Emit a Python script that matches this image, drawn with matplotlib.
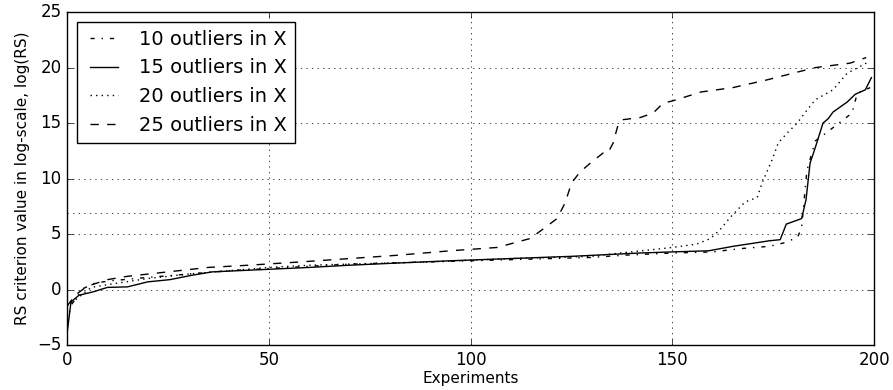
import numpy as np
import matplotlib
matplotlib.use("Agg")
import matplotlib.pyplot as plt

# ---------- data ----------
x_10 = [0, 1, 4, 7, 11, 20, 30, 40, 50, 60, 70, 80, 90, 100, 110, 120, 130, 138,
        150, 160, 167, 174, 177.5, 181, 182, 183.3, 185.4, 188.4, 192.3, 194.5,
        195.8, 197.8, 199]
y_10 = [-3.0, -1.4, 0.1, 0.6, 0.8, 1.1, 1.4, 1.7, 1.9, 2.1, 2.3, 2.4, 2.5, 2.6,
        2.7, 2.8, 2.9, 3.1, 3.3, 3.4, 3.7, 3.9, 4.2, 4.7, 5.6, 10.7, 13.4, 14.2,
        15.3, 15.9, 17.7, 18.0, 18.2]

x_15 = [0, 1, 3, 6.5, 10, 15, 20, 25.5, 31, 36, 48, 60, 70, 82, 95, 110, 125,
        142, 150, 159, 165, 174, 176.7, 178.2, 182, 183.1, 184.1, 185.4, 187.3,
        188.6, 189.8, 193.3, 195.3, 197.8, 199.3]
y_15 = [-4.0, -1.1, -0.5, -0.2, 0.2, 0.25, 0.7, 0.9, 1.3, 1.6, 1.8, 2.0, 2.2,
        2.4, 2.6, 2.8, 3.0, 3.3, 3.4, 3.5, 3.9, 4.4, 4.5, 5.9, 6.4, 8.1, 11.4,
        12.8, 15.0, 15.4, 16.0, 16.9, 17.6, 18.0, 19.1]

x_20 = [0, 2.5, 6, 11, 20, 30, 40, 50, 60, 70, 80, 90, 100, 110, 120, 130, 137,
        145, 150, 156, 159.4, 161.8, 164.3, 168, 171, 172.2, 174.7, 176.2, 178.4,
        180.9, 183.4, 185.4, 189.8, 193.3, 196, 198.5]
y_20 = [-1.5, -0.8, 0.2, 0.5, 1.0, 1.4, 1.7, 2.0, 2.2, 2.3, 2.4, 2.5, 2.65,
        2.8, 2.9, 3.0, 3.3, 3.6, 3.8, 4.1, 4.6, 5.4, 6.5, 7.9, 8.3, 9.6, 11.7,
        13.2, 14.1, 15.0, 16.2, 17.1, 18.0, 19.5, 20.0, 20.5]

x_25 = [0, 2, 5, 10, 15, 25, 35, 45, 58, 70, 82, 95, 106.6, 114.7, 118.5, 121.4,
        123.4, 125, 127.1, 130, 132.8, 134, 135.3, 136.5, 137.5, 142, 145.2,
        147.7, 150, 152.7, 157, 165, 173.5, 181, 185.4, 194, 198]
y_25 = [-1.5, -0.5, 0.3, 0.9, 1.2, 1.6, 2.0, 2.2, 2.5, 2.8, 3.1, 3.5, 3.8, 4.6,
        5.6, 6.4, 7.8, 9.6, 10.6, 11.5, 12.3, 12.3, 13.2, 14.8, 15.3, 15.5, 15.9,
        16.8, 17.0, 17.3, 17.8, 18.2, 18.9, 19.6, 20.0, 20.4, 20.9]

labels = ["10 outliers in X", "15 outliers in X", "20 outliers in X", "25 outliers in X"]
threshold = np.log(1000)

# ---------- plot ----------
plt.style.use("classic")
fig = plt.figure(figsize=(8.93, 3.90), dpi=100, facecolor="white")
ax = fig.add_axes([0.075, 0.115, 0.904, 0.854])

ax.plot(x_10, y_10, "k-.", lw=1, label=labels[0])
ax.plot(x_15, y_15, "k-", lw=1, label=labels[1])
ax.plot(x_20, y_20, "k:", lw=1, label=labels[2])
ax.plot(x_25, y_25, "k--", lw=1, label=labels[3])
ax.axhline(threshold, color="k", ls=":", lw=0.5)

ax.set_xlim(0, 200)
ax.set_ylim(-5, 25)
ax.set_xticks([0, 50, 100, 150, 200])
ax.set_yticks([-5, 0, 5, 10, 15, 20, 25])
ax.grid(True)
ax.set_xlabel("Experiments", fontsize=11, labelpad=2)
ax.set_ylabel("RS criterion value in log-scale, log(RS)", fontsize=11)
ax.legend(loc="upper left", fontsize=14)

fig.savefig("out.png", dpi=100, facecolor="white")
